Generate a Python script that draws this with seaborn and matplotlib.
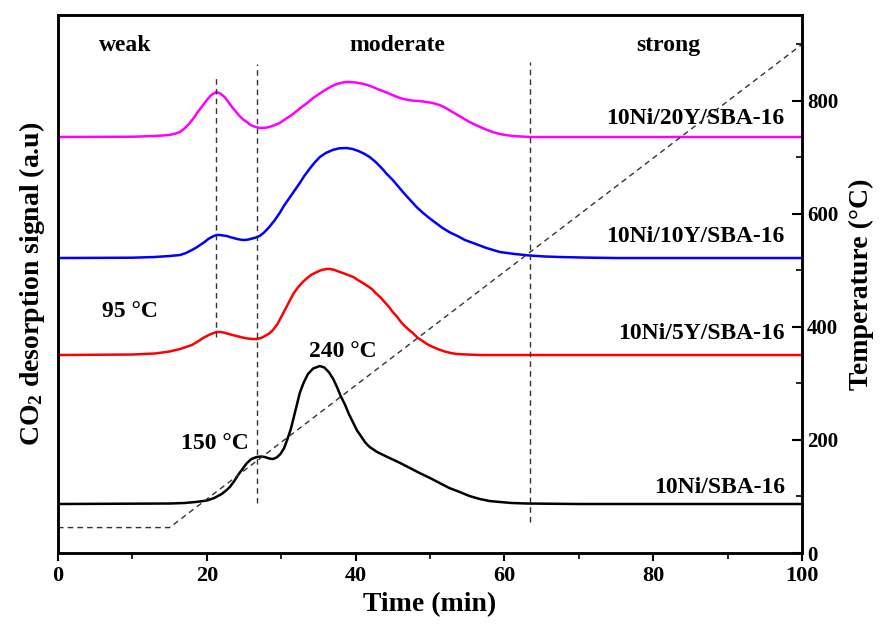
import numpy as np
import pandas as pd
import matplotlib
matplotlib.use("Agg")
import matplotlib.pyplot as plt
import seaborn as sns
from matplotlib.ticker import MultipleLocator

# ---------------- data ----------------
# Signal heights above each curve's baseline (a.u.), versus time (min)
t_black = [0, 15, 17, 18.5, 20, 21, 22, 22.6, 23.1, 23.7, 24.3, 24.9, 25.4, 26, 26.7, 27.3,
           27.8, 28.4, 28.9, 29.4, 29.9, 30.4, 30.8, 31.3, 31.7, 32.1, 32.5, 33, 33.6, 34.3,
           35.2, 35.8, 36.4, 37, 37.5, 38, 38.6, 39.1, 39.7, 40.2, 40.8, 41.3, 41.9, 42.9,
           44, 45, 46, 47.3, 48.6, 50, 51.3, 52.6, 54, 55.3, 56.7, 58, 59.4, 61, 63, 70, 100]
h_black = [0, 0.5, 1, 2, 3.5, 6, 10, 13.5, 17, 23, 30, 36, 41, 45, 47, 47.5,
           47, 45.5, 45, 46.5, 50, 56, 64, 75, 87, 99, 111, 121, 130, 135.5,
           138, 136.5, 132, 125, 117, 108, 99, 90, 81, 73.5, 67, 61.5, 57, 52,
           48, 44.5, 41, 36, 31, 26, 21, 16, 12, 8, 5, 3, 2, 1, 0.5, 0, 0]

t_red = [0, 10, 13, 15, 16.4, 17.2, 18, 18.8, 19.5, 20.4, 21.3, 21.9, 22.5, 23.2, 24, 24.8,
         25.5, 26.1, 26.7, 27.3, 27.8, 28.4, 28.9, 29.5, 30, 30.6, 31.2, 31.7, 32.3, 32.9,
         33.5, 34.1, 34.8, 35.4, 36.1, 36.6, 37.2, 37.7, 38.3, 39, 39.7, 40.3, 41, 41.6,
         42.2, 42.7, 43.3, 43.9, 44.5, 45, 45.6, 46.1, 46.6, 47.2, 47.7, 48.3, 49, 49.7,
         50.4, 51.2, 52, 52.8, 53.6, 55, 56.7, 100]
h_red = [0, 0.5, 1.5, 3.5, 6, 8, 10, 13.5, 17, 20.5, 23, 23, 22, 20.5, 19, 17.5,
         16.5, 16, 16, 17, 19, 21.5, 25, 31, 38, 46.5, 55, 62, 68, 73,
         77, 80.5, 83, 85, 86, 86, 85, 83.5, 82, 80, 78, 75, 72, 69,
         66, 62, 58, 53, 48, 43, 38, 33, 29, 25, 22, 17.5, 14, 10.5,
         8, 5.5, 3.5, 2, 1, 0.5, 0, 0]

t_blue = [0, 10, 13, 15, 16.4, 17.2, 18, 18.6, 19.1, 19.7, 20.2, 20.8, 21.3, 21.8, 22.2,
          22.7, 23.1, 23.6, 24.1, 24.6, 25.1, 25.6, 26.1, 26.6, 27.1, 27.7, 28.4, 29.1,
          29.8, 30.4, 31.1, 31.8, 32.5, 33.1, 33.8, 34.5, 35.2, 36, 36.9, 37.8, 38.8, 39.6,
          40.4, 41.1, 41.9, 42.7, 43.5, 44.2, 45, 45.8, 46.6, 47.4, 48.2, 49, 49.9, 50.8,
          51.7, 52.7, 53.7, 54.7, 55.8, 56.7, 57.6, 58.5, 59.4, 61.4, 63.4, 65.5, 67.5,
          71, 75, 100]
h_blue = [0, 0.3, 1, 2, 3, 5, 8, 10.5, 13, 16, 19, 21.5, 23, 23, 22.5,
          22, 21, 20, 19, 18.3, 18, 18.5, 19.5, 20.5, 22, 25.5, 31, 37.5,
          45, 52.5, 60, 67.5, 75, 82, 89, 95.5, 101, 105, 108, 109.7, 110, 109,
          107, 104.5, 101, 96, 90, 84, 78, 71, 64, 57.5, 51, 45.5, 40, 35,
          30, 25.5, 22, 18, 15, 12.5, 10, 8, 6, 4, 2.5, 1.5, 1,
          0.4, 0, 0]

t_mag = [0, 10, 13, 15, 15.8, 16.4, 17, 17.6, 18.2, 18.7, 19.4, 20, 20.6, 21.3, 21.8, 22.4,
         22.9, 23.4, 23.9, 24.4, 24.9, 25.4, 25.8, 26.2, 26.7, 27.1, 27.8, 28.4, 29.1, 29.8,
         30.7, 31.6, 32.5, 33.5, 34.3, 35.1, 35.9, 36.6, 37.3, 38, 38.6, 39.2, 40, 40.8,
         41.6, 42.3, 43.1, 44, 44.8, 45.6, 46.3, 47.1, 47.8, 48.6, 49.3, 50, 50.6, 51.3,
         52, 52.8, 53.6, 54.4, 55.2, 56, 56.9, 57.7, 58.5, 59.4, 60.3, 61.2, 62.3, 63.4, 100]
h_mag = [0, 0.3, 1, 2, 3.5, 5, 8.5, 13, 18.5, 24, 31, 37, 42, 45, 43.5, 40,
         35, 30, 25.5, 21, 17.5, 15, 12.5, 11, 9.8, 9, 9.2, 10, 11.8, 14,
         18.5, 23, 28.5, 34, 39, 43, 47, 50, 52.5, 54, 55, 55, 54.5, 53.5,
         52, 50, 47.5, 45, 42.5, 40, 38.3, 37, 36.3, 36, 35.3, 34.5, 33.5, 32,
         29.5, 26, 22.5, 19, 15.5, 12.5, 9.5, 7, 4.8, 3, 1.8, 1, 0.5, 0, 0]

samples = ["10Ni/SBA-16", "10Ni/5Y/SBA-16", "10Ni/10Y/SBA-16", "10Ni/20Y/SBA-16"]
offsets = [49, 198, 295, 416]
colors = ["#000000", "#ff0000", "#0000ff", "#ff00ff"]

# temperature programme
t_temp = [0, 15, 100]
temp = [45, 45, 900]

# region boundaries (min)
bounds = [21.3, 26.7, 63.5]
regions = ["weak", "moderate", "strong"]
region_x = [9, 45.6, 82]

# ---------------- build table ----------------
frames = []
for name, tt, hh, off in zip(samples, [t_black, t_red, t_blue, t_mag],
                             [h_black, h_red, h_blue, h_mag], offsets):
    frames.append(pd.DataFrame({"time": tt, "signal": np.array(hh) + off, "sample": name}))
df = pd.concat(frames, ignore_index=True)
df_temp = pd.DataFrame({"time": t_temp, "temp": temp})

# ---------------- style ----------------
sns.set_style("ticks")
plt.rcParams["font.family"] = ["Liberation Serif", "DejaVu Serif"]
plt.rcParams["font.weight"] = "bold"
plt.rcParams["text.color"] = "black"
plt.rcParams["axes.labelcolor"] = "black"
plt.rcParams["xtick.color"] = "black"
plt.rcParams["ytick.color"] = "black"
plt.rcParams["mathtext.fontset"] = "custom"
plt.rcParams["mathtext.rm"] = "Liberation Serif:bold"
plt.rcParams["mathtext.it"] = "Liberation Serif:bold"
plt.rcParams["mathtext.default"] = "rm"

fig = plt.figure(figsize=(8.81, 6.31), dpi=100)
ax = fig.add_axes([0.0658, 0.1236, 0.8445, 0.8526])
ax2 = ax.twinx()

sns.lineplot(data=df, x="time", y="signal", hue="sample", palette=dict(zip(samples, colors)),
             hue_order=samples, ax=ax, legend=False, linewidth=1.8, sort=False)
sns.lineplot(data=df_temp, x="time", y="temp", ax=ax2, color="#333333", linewidth=1.0,
             linestyle=(0, (4, 3)))

ax.set_xlim(0, 100)
ax.set_ylim(0, 538)
ax2.set_ylim(0, 952)

# vertical region lines
vl = [(0.401, 0.883), (0.093, 0.909), (0.058, 0.913)]
for b, (y0, y1) in zip(bounds, vl):
    ax.axvline(b, ymin=y0, ymax=y1, color="#333333", linewidth=1.0, linestyle=(0, (4, 3)))

# region names
for r, rx in zip(regions, region_x):
    ax.text(rx, 508, r, ha="center", va="center", fontsize=17, fontweight="bold")

# sample labels
label_y = [66, 220, 317, 435]
for name, ly in zip(samples, label_y):
    ax.text(97.7, ly, name, ha="right", va="center", fontsize=17, fontweight="bold")

# peak annotations
ax.text(9.7, 242, "95 °C", ha="center", va="center", fontsize=17, fontweight="bold")
ax.text(38.3, 202, "240 °C", ha="center", va="center", fontsize=17, fontweight="bold")
ax.text(21.1, 110, "150 °C", ha="center", va="center", fontsize=17, fontweight="bold")

# axes styling
ax.set_xlabel("Time (min)", fontsize=20, fontweight="bold", labelpad=4)
ax.set_ylabel("CO$_2$ desorption signal (a.u)", fontsize=20, fontweight="bold", labelpad=8)
ax2.set_ylabel("Temperature (°C)", fontsize=20, fontweight="bold", labelpad=8)

ax.set_yticks([])
ax.xaxis.set_major_locator(MultipleLocator(20))
ax.xaxis.set_minor_locator(MultipleLocator(10))
ax.tick_params(axis="x", which="major", direction="out", length=6, width=1.5, labelsize=16)
ax.tick_params(axis="x", which="minor", direction="out", length=4, width=1.2)

ax2.yaxis.set_major_locator(MultipleLocator(200))
ax2.yaxis.set_minor_locator(MultipleLocator(100))
ax2.tick_params(axis="y", which="major", direction="in", length=7, width=1.5, labelsize=15)
ax2.tick_params(axis="y", which="minor", direction="in", length=4, width=1.2)

for a in (ax, ax2):
    for s in a.spines.values():
        s.set_linewidth(1.8)
        s.set_color("black")
    for lab in a.get_xticklabels() + a.get_yticklabels():
        lab.set_fontweight("bold")

fig.savefig("out.png", dpi=100)
